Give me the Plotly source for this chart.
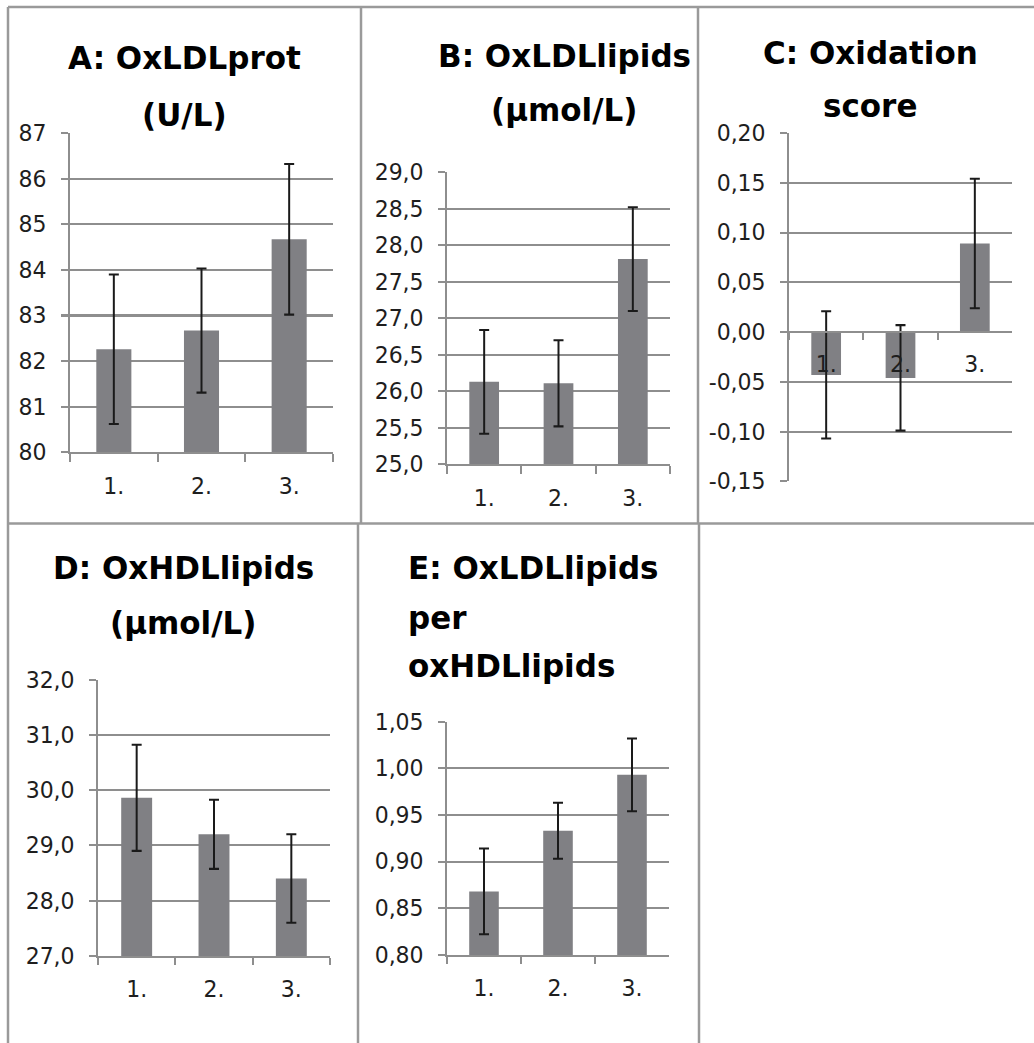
import plotly.graph_objects as go

W, H = 1034, 1043

categories = ["1.", "2.", "3."]

a_values = [82.26, 82.67, 84.67]
a_err = [1.64, 1.36, 1.65]
a_ticks = [80, 81, 82, 83, 84, 85, 86, 87]
a_ticktext = ["80", "81", "82", "83", "84", "85", "86", "87"]

b_values = [26.13, 26.11, 27.81]
b_err = [0.71, 0.59, 0.71]
b_ticks = [25.0, 25.5, 26.0, 26.5, 27.0, 27.5, 28.0, 28.5, 29.0]
b_ticktext = ["25,0", "25,5", "26,0", "26,5", "27,0", "27,5", "28,0", "28,5", "29,0"]

c_values = [-0.043, -0.046, 0.089]
c_err = [0.064, 0.053, 0.065]
c_ticks = [-0.15, -0.10, -0.05, 0.0, 0.05, 0.10, 0.15, 0.20]
c_ticktext = ["-0,15", "-0,10", "-0,05", "0,00", "0,05", "0,10", "0,15", "0,20"]

d_values = [29.86, 29.20, 28.40]
d_err = [0.96, 0.625, 0.80]
d_ticks = [27.0, 28.0, 29.0, 30.0, 31.0, 32.0]
d_ticktext = ["27,0", "28,0", "29,0", "30,0", "31,0", "32,0"]

e_values = [0.868, 0.933, 0.993]
e_err = [0.046, 0.030, 0.039]
e_ticks = [0.80, 0.85, 0.90, 0.95, 1.00, 1.05]
e_ticktext = ["0,80", "0,85", "0,90", "0,95", "1,00", "1,05"]

titles = {
    "A": ["A: OxLDLprot", "(U/L)"],
    "B": ["B: OxLDLlipids", "(µmol/L)"],
    "C": ["C: Oxidation", "score"],
    "D": ["D: OxHDLlipids", "(µmol/L)"],
    "E": ["E: OxLDLlipids", "per", "oxHDLlipids"],
}

BAR = "#808084"
GRID = "#8e8e8e"
FRAME = "#9a9a9a"
TXT = "#1e1e1e"
FONT = "DejaVu Sans"


def px_x(x):
    return x / W


def px_y(y):
    return 1 - y / H


panels = [
    dict(key="A", vals=a_values, err=a_err, ticks=a_ticks, tt=a_ticktext,
         xd=(70, 333), yd=(132, 451)),
    dict(key="B", vals=b_values, err=b_err, ticks=b_ticks, tt=b_ticktext,
         xd=(447, 670), yd=(171, 463)),
    dict(key="C", vals=c_values, err=c_err, ticks=c_ticks, tt=c_ticktext,
         xd=(789, 1012), yd=(132, 480)),
    dict(key="D", vals=d_values, err=d_err, ticks=d_ticks, tt=d_ticktext,
         xd=(98, 330), yd=(678, 954)),
    dict(key="E", vals=e_values, err=e_err, ticks=e_ticks, tt=e_ticktext,
         xd=(447, 669), yd=(720, 953)),
]

fig = go.Figure()
layout = {}

for i, p in enumerate(panels, start=1):
    xa = "x" if i == 1 else f"x{i}"
    ya = "y" if i == 1 else f"y{i}"
    xkey = "xaxis" if i == 1 else f"xaxis{i}"
    ykey = "yaxis" if i == 1 else f"yaxis{i}"
    fig.add_trace(go.Bar(
        x=categories, y=p["vals"], xaxis=xa, yaxis=ya,
        marker=dict(color=BAR, line=dict(width=0)), width=0.4,
        error_y=dict(type="data", array=p["err"], color="#1a1a1a",
                     thickness=2, width=5),
        showlegend=False,
    ))
    ymin, ymax = p["ticks"][0], p["ticks"][-1]
    ydom = (px_y(p["yd"][1]), px_y(p["yd"][0]))
    xaxis = dict(
        domain=[px_x(p["xd"][0]), px_x(p["xd"][1])],
        anchor=ya, type="category", range=[-0.5, 2.5],
        tickson="boundaries", ticks="outside", ticklen=7, tickwidth=2,
        tickcolor=GRID, showline=True, linecolor=GRID, linewidth=2,
        showgrid=False, tickfont=dict(family=FONT, size=22, color=TXT),
        ticklabelstandoff=12, fixedrange=True,
    )
    if p["key"] == "C":
        frac = (0 - ymin) / (ymax - ymin)
        xaxis["anchor"] = "free"
        xaxis["position"] = ydom[0] + frac * (ydom[1] - ydom[0])
    yaxis = dict(
        domain=list(ydom), anchor=xa, range=[ymin, ymax],
        tickvals=p["ticks"], ticktext=p["tt"],
        showgrid=True, gridcolor=GRID, gridwidth=2,
        showline=True, linecolor=GRID, linewidth=2,
        ticks="outside", ticklen=7, tickwidth=2, tickcolor=GRID,
        zeroline=False, tickfont=dict(family=FONT, size=22, color=TXT),
        ticklabelstandoff=10, fixedrange=True,
    )
    layout[xkey] = xaxis
    layout[ykey] = yaxis

# titles (line centres in pixels)
title_pos = {
    "A": [(184, 56, "center"), (184, 114, "center")],
    "B": [(564, 54, "center"), (564, 109, "center")],
    "C": [(870, 52, "center"), (870, 104, "center")],
    "D": [(183, 567, "center"), (183, 621, "center")],
    "E": [(406, 567, "left"), (406, 616, "left"), (406, 664, "left")],
}
annotations = []
for k, lines in titles.items():
    for text, (x, y, anc) in zip(lines, title_pos[k]):
        annotations.append(dict(
            text=text, x=px_x(x), y=px_y(y), xref="paper", yref="paper",
            xanchor=anc, yanchor="middle", showarrow=False,
            font=dict(family=FONT, size=31, color="#000000", weight="bold"),
        ))

frame_lines = [
    (8, 6, 1034, 6), (8, 6, 8, 1043), (361, 6, 361, 522), (698, 6, 698, 522),
    (8, 522, 1034, 522), (358, 522, 358, 1043), (699, 522, 699, 1043),
]
shapes = [dict(type="line", xref="paper", yref="paper",
               x0=px_x(a), y0=px_y(b), x1=px_x(c), y1=px_y(d),
               line=dict(color=FRAME, width=2.5), layer="below")
          for a, b, c, d in frame_lines]

fig.update_layout(
    width=W, height=H, margin=dict(l=0, r=0, t=0, b=0),
    paper_bgcolor="white", plot_bgcolor="white",
    annotations=annotations, shapes=shapes, showlegend=False,
    **layout,
)

post = (
    "var h=document.documentElement,b=document.body;"
    "[h,b].forEach(function(e){e.style.margin='0';e.style.padding='0';"
    "e.style.overflow='hidden';});"
    "var d=document.getElementById('{plot_id}');"
    "d.style.position='fixed';d.style.top='0px';d.style.left='0px';"
    "d.style.transformOrigin='0 0';"
    "d.style.transform='translate(0px,-11.4px) scale(1,1.0256)';"
)

fig.write_html(
    "out.html",
    config={"displayModeBar": False, "responsive": False},
    post_script=post,
)
